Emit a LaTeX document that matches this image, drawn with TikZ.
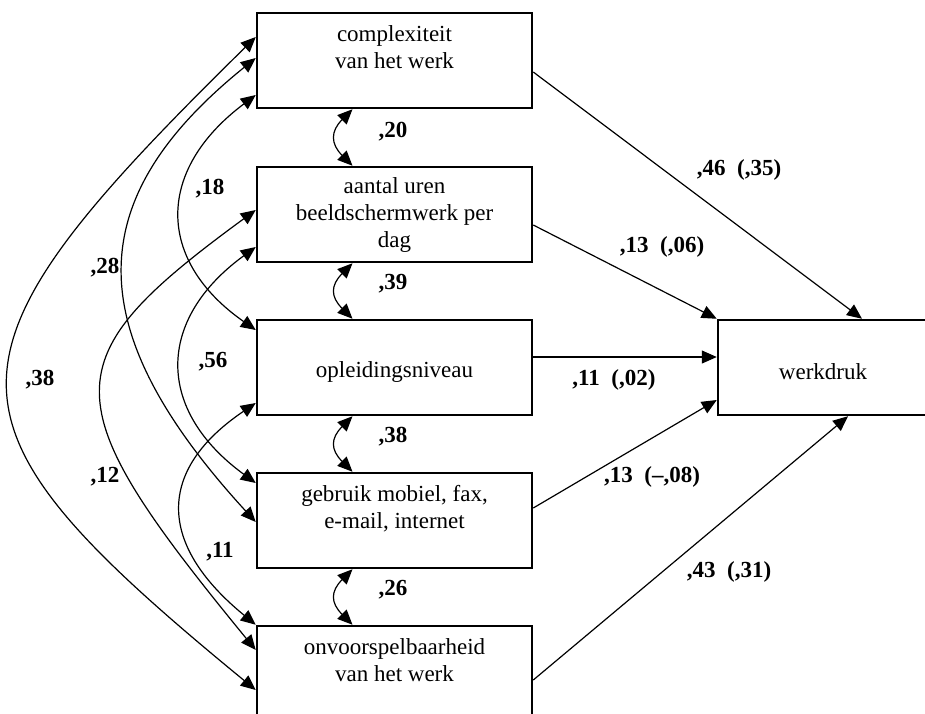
\documentclass[tikz,border=0pt]{standalone}
\usepackage{fontspec}
\setmainfont{Liberation Serif}
\usetikzlibrary{arrows.meta}

\begin{document}
\begin{tikzpicture}[x=1pt, y=-1pt,
    box/.style={draw, line width=2.5pt, minimum width=275pt, minimum height=95pt,
      align=center, inner sep=0pt, font=\fontsize{23}{27}\selectfont,
      execute at begin node={\rule{0pt}{25pt}}},
    coef/.style={font=\fontsize{23}{27}\selectfont\bfseries},
    effect/.style={line width=1.2pt, -{Triangle[length=15pt, width=13pt]}},
    corr/.style={line width=1.2pt, {Triangle[length=15pt, width=13pt]}-{Triangle[length=15pt, width=13pt]}}]
    \clip (0,0) rectangle (925,713);
    % Variabelen
    \node[box] (cx) at (394.5,60.5) {complexiteit\\van het werk\\~};
    \node[box] (bs) at (394.5,214.5) {aantal uren\\beeldschermwerk per\\dag};
    \node[box] (ol) at (394.5,367.5) {opleidingsniveau};
    \node[box] (gm) at (394.5,520.5) {gebruik mobiel, fax,\\e-mail, internet\\~};
    \node[box] (ov) at (394.5,673.5) {onvoorspelbaarheid\\van het werk\\~};
    \node[box, minimum width=210pt] (wd) at (823,367.5) {werkdruk};
    % Effecten op werkdruk
    \draw[effect] ([yshift=-11.5pt]cx.east) -- ([xshift=39pt]wd.north);
    \draw[effect] ([yshift=-10.5pt]bs.east) -- (wd.north west);
    \draw[effect] ([yshift=10.5pt]ol.east) -- ([yshift=10.5pt]wd.west);
    \draw[effect] ([yshift=12.5pt]gm.east) -- ([yshift=-32.5pt]wd.west);
    \draw[effect] ([yshift=-6.5pt]ov.east) -- ([xshift=25pt]wd.south);
    \node[coef] (e1) at (739,170) {,46\ \ (,35)};
    \node[coef] (e2) at (662,247) {,13\ \ (,06)};
    \node[coef] (e3) at (614,380) {,11\ \ (,02)};
    \node[coef] (e4) at (652,477) {,13\ \ (--,08)};
    \node[coef] (e5) at (729,572) {,43\ \ (,31)};
    % Correlaties tussen buren
    \foreach \a/\b in {cx/bs, bs/ol, ol/gm, gm/ov} {
      \draw[corr] ([xshift=-42pt]\a.south) .. controls +(-22,22) and +(-22,-22) .. ([xshift=-42pt]\b.north);
    }
    \foreach \n/\t/\y in {r12/20/132, r23/39/284, r34/38/437, r45/26/590} {
      \node[coef] (\n) at (393,\y) {,\t};
    }
    % Correlaties links
    \draw[corr] ([yshift=23.5pt]cx.west) .. controls +(-329,323) and +(-329,-270) .. ([yshift=-16.5pt]ov.west);
    \draw[corr] ([yshift=2.5pt]cx.west) .. controls +(-176,142) and +(-176,-192) .. ([yshift=-1.5pt]gm.west);
    \draw[corr] ([yshift=-34.5pt]cx.west) .. controls +(-100,75) and +(-100,-70) .. ([yshift=37.5pt]ol.west);
    \draw[corr] ([yshift=-32.5pt]bs.west) .. controls +(-100,73) and +(-100,-73) .. ([yshift=37.5pt]gm.west);
    \draw[corr] ([yshift=4.5pt]bs.west) .. controls +(-205,150) and +(-205,-250) .. ([yshift=23.5pt]ov.west);
    \draw[corr] ([yshift=-35.5pt]ol.west) .. controls +(-99,67) and +(-99,-81) .. (ov.north west);
    \node[coef] (r13) at (210,189) {,18};
    \node[coef] (r14) at (105,268) {,28};
    \node[coef] (r24) at (213,362) {,56};
    \node[coef] (r15) at (40,380) {,38};
    \node[coef] (r25) at (105,477) {,12};
    \node[coef] (r35) at (220,552) {,11};
\end{tikzpicture}
\end{document}
